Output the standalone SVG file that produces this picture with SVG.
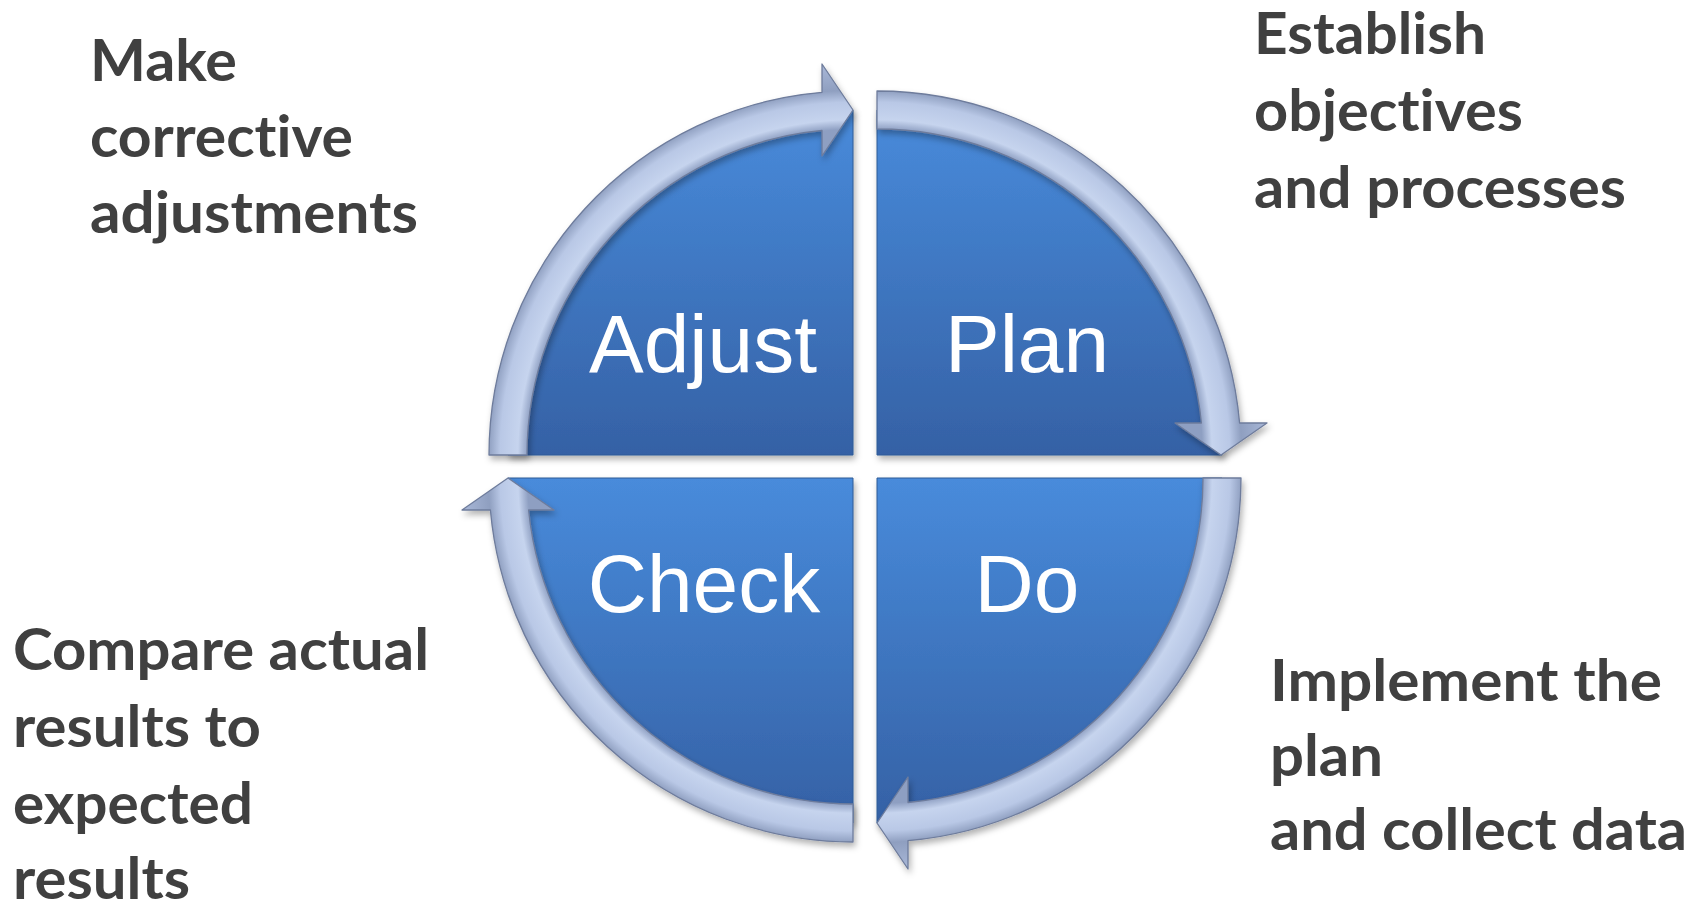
<svg xmlns="http://www.w3.org/2000/svg" width="1703" height="905" viewBox="0 0 1703 905">
<defs>
<style>
.lbl{font-family:"Liberation Sans",Arial,sans-serif;font-size:82px;fill:#ffffff;text-anchor:middle}
.note{font-family:Lato,"Open Sans","Liberation Sans",sans-serif;font-weight:bold;font-size:58px;fill:#404040;font-variant-ligatures:none}
.quad{stroke:#2f5a96;stroke-width:1}
.ring{stroke:#6e7c9c;stroke-width:1.3;stroke-linejoin:round}
</style>
<linearGradient id="blue" x1="0" y1="0" x2="0" y2="1">
<stop offset="0" stop-color="#488bdb"/>
<stop offset="1" stop-color="#3561a5"/>
</linearGradient>
<radialGradient id="rTL" gradientUnits="userSpaceOnUse" cx="853" cy="455" r="392">
<stop offset="0.83" stop-color="#8e9fc2"/>
<stop offset="0.855" stop-color="#c6d4ee"/>
<stop offset="0.9" stop-color="#b9c8e6"/>
<stop offset="0.93" stop-color="#8f9fc0"/>
<stop offset="1" stop-color="#a9b8d8"/>
</radialGradient>
<radialGradient id="rTR" gradientUnits="userSpaceOnUse" cx="877" cy="455" r="392" href="#rTL"/>
<radialGradient id="rBR" gradientUnits="userSpaceOnUse" cx="877" cy="478" r="392" href="#rTL"/>
<radialGradient id="rBL" gradientUnits="userSpaceOnUse" cx="853" cy="478" r="392" href="#rTL"/>
<filter id="sh" x="-10%" y="-10%" width="125%" height="125%">
<feDropShadow dx="2" dy="4" stdDeviation="3" flood-color="#000" flood-opacity="0.3"/>
</filter>
</defs>
<rect width="1703" height="905" fill="#ffffff"/>

<g id="node-adjust">
<path class="quad" d="M853 455 L508 455 A345 345 0 0 1 853 110 Z" fill="url(#blue)" filter="url(#sh)"/>
<text class="lbl" x="703" y="372">Adjust</text>
</g>
<g id="node-plan">
<path class="quad" d="M877 455 L877 110 A345 345 0 0 1 1222 455 Z" fill="url(#blue)" filter="url(#sh)"/>
<text class="lbl" x="1027" y="372">Plan</text>
</g>
<g id="node-do">
<path class="quad" d="M877 478 L1222 478 A345 345 0 0 1 877 823 Z" fill="url(#blue)" filter="url(#sh)"/>
<text class="lbl" x="1027" y="612">Do</text>
</g>
<g id="node-check">
<path class="quad" d="M853 478 L853 823 A345 345 0 0 1 508 478 Z" fill="url(#blue)" filter="url(#sh)"/>
<text class="lbl" x="704" y="612">Check</text>
</g>

<g id="connectors" filter="url(#sh)">
<path class="ring" fill="url(#rTL)" d="M489 455 A364 364 0 0 1 822 92.3 L822 64 L853 110 L822 156 L822 130.5 A326 326 0 0 0 527 455 Z"/>
<path class="ring" fill="url(#rTR)" d="M877 91 A364 364 0 0 1 1239.6 423 L1267 423 L1221 455 L1175 423 L1201.4 423 A326 326 0 0 0 877 129 Z"/>
<path class="ring" fill="url(#rBR)" d="M1241 478 A364 364 0 0 1 908 840.7 L908 869 L877 823 L908 777 L908 802.5 A326 326 0 0 0 1203 478 Z"/>
<path class="ring" fill="url(#rBL)" d="M853 842 A364 364 0 0 1 490.4 510 L462 510 L508 478 L554 510 L528.6 510 A326 326 0 0 0 853 804 Z"/>
</g>

<g id="note-adjust">
<text class="note" x="90" y="81" textLength="147" lengthAdjust="spacingAndGlyphs">Make</text>
<text class="note" x="90" y="157" textLength="263" lengthAdjust="spacingAndGlyphs">corrective</text>
<text class="note" x="90" y="233" textLength="328" lengthAdjust="spacingAndGlyphs">adjustments</text>
</g>
<g id="note-plan">
<text class="note" x="1254" y="54" textLength="232" lengthAdjust="spacingAndGlyphs">Establish</text>
<text class="note" x="1254" y="131" textLength="269" lengthAdjust="spacingAndGlyphs">objectives</text>
<text class="note" x="1254" y="208" textLength="372" lengthAdjust="spacingAndGlyphs">and processes</text>
</g>
<g id="note-check">
<text class="note" x="13" y="670" textLength="416" lengthAdjust="spacingAndGlyphs">Compare actual</text>
<text class="note" x="13" y="747" textLength="248" lengthAdjust="spacingAndGlyphs">results to</text>
<text class="note" x="13" y="824" textLength="240" lengthAdjust="spacingAndGlyphs">expected</text>
<text class="note" x="13" y="899" textLength="177" lengthAdjust="spacingAndGlyphs">results</text>
</g>
<g id="note-do">
<text class="note" x="1270" y="701" textLength="392" lengthAdjust="spacingAndGlyphs">Implement the</text>
<text class="note" x="1270" y="776" textLength="113" lengthAdjust="spacingAndGlyphs">plan</text>
<text class="note" x="1270" y="850" textLength="417" lengthAdjust="spacingAndGlyphs">and collect data</text>
</g>
</svg>
